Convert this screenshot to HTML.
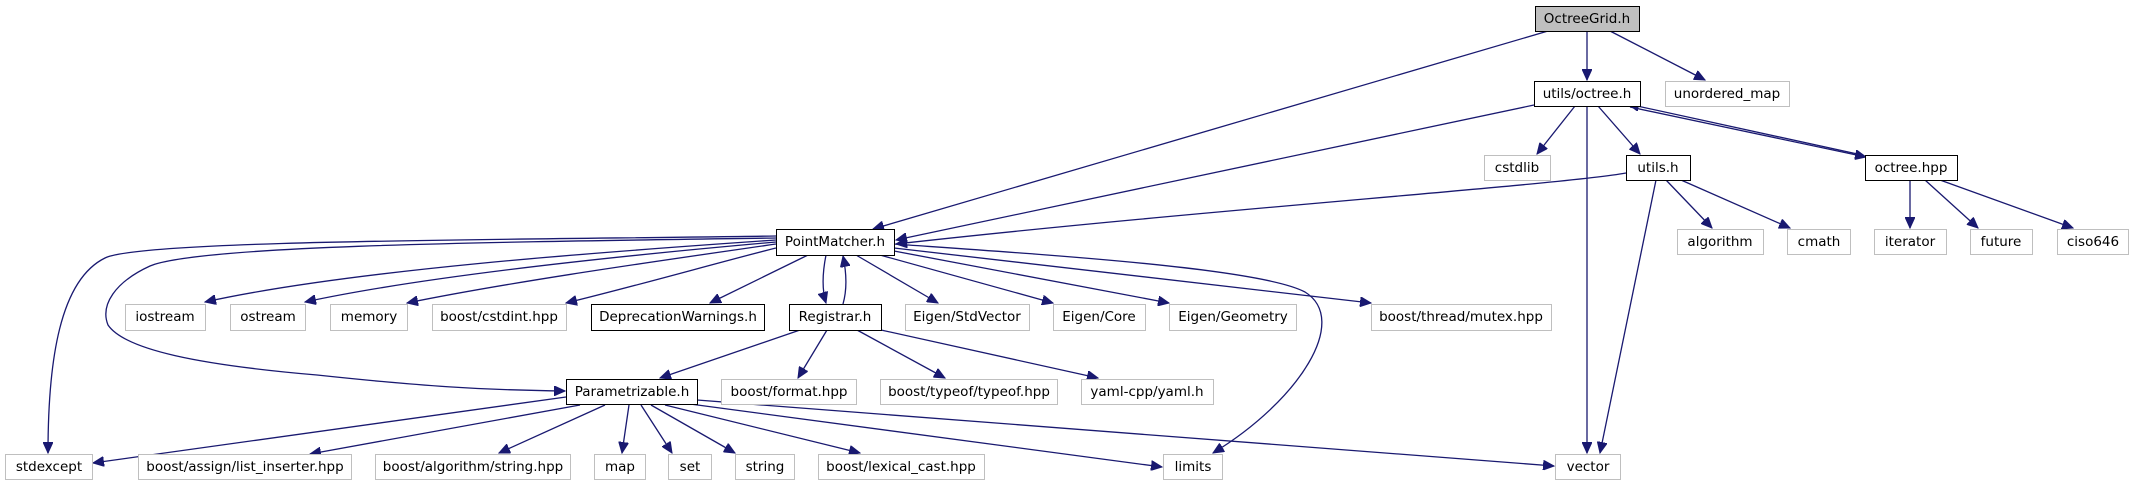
<!DOCTYPE html>
<html><head><meta charset="utf-8"><style>
html,body{margin:0;padding:0;background:#fff;}
svg{display:block}
text{font-family:"DejaVu Sans","Liberation Sans",sans-serif;font-size:13.5px;fill:#000;text-anchor:middle;dominant-baseline:central}
.g rect{fill:#fff;stroke:#bfbfbf;stroke-width:1}
.b rect{fill:#fff;stroke:#000;stroke-width:1}
path,line{stroke:#191970;stroke-width:1.3;fill:none}
</style></head><body>
<svg width="2130" height="485" viewBox="0 0 2130 485" xmlns="http://www.w3.org/2000/svg">
<defs><marker id="a" markerUnits="userSpaceOnUse" markerWidth="12" markerHeight="10" refX="11" refY="5" orient="auto"><path d="M0,0 L11,5 L0,10 Z" style="fill:#191970;stroke:#191970;stroke-width:1"/></marker></defs>
<g marker-end="url(#a)">
<path d="M1548,31 L873,229"/>
<path d="M1587,31 L1587,80"/>
<path d="M1610,31 L1705,80"/>
<path d="M1534,105 L896,240"/>
<path d="M1575,106 L1537,154"/>
<path d="M1598,106 L1640,154"/>
<path d="M1587,106 L1587,453"/>
<path d="M1630,107 L1866,157"/>
<path d="M1862,155 L1628,104"/>
<path d="M1626,173 C1560,185 1200,210 896,244"/>
<path d="M1656,180 L1600,453"/>
<path d="M1666,180 L1712,228"/>
<path d="M1681,180 L1790,228"/>
<path d="M1910,180 L1910,228"/>
<path d="M1925,180 L1978,228"/>
<path d="M1940,180 L2073,228"/>
<path d="M776,240 C600,252 350,270 205,302"/>
<path d="M776,242 C640,254 430,275 305,302"/>
<path d="M776,244 C680,258 520,280 407,303"/>
<path d="M776,248 C720,262 640,285 566,303"/>
<path d="M808,255 L710,303"/>
<path d="M826,255 C822,275 822,290 826,303"/>
<path d="M843,304 C847,290 847,275 843,256"/>
<path d="M856,255 L938,303"/>
<path d="M880,255 L1053,303"/>
<path d="M894,251 L1169,303"/>
<path d="M894,248 L1371,303"/>
<path d="M894,244 C1050,255 1260,268 1305,292 C1350,320 1300,400 1213,453"/>
<path d="M776,236 C500,240 140,240 105,258 C60,280 48,360 48,453"/>
<path d="M776,238 C500,242 200,245 150,266 C115,282 100,305 108,325 C125,350 200,365 317,375 C420,386 480,390 565,391"/>
<path d="M800,330 L660,378"/>
<path d="M827,330 L798,378"/>
<path d="M857,330 L945,378"/>
<path d="M881,330 L1098,378"/>
<path d="M566,397 L93,463"/>
<path d="M580,405 L310,454"/>
<path d="M605,405 L499,453"/>
<path d="M629,405 L622,453"/>
<path d="M641,405 L672,453"/>
<path d="M651,405 L735,453"/>
<path d="M665,405 L860,453"/>
<path d="M690,404 L1162,467"/>
<path d="M697,400 L1554,466"/>
</g>
<g class="b"><rect x="1535.5" y="6.5" width="104" height="25" style="fill:#bfbfbf"/><text x="1587" y="19">OctreeGrid.h</text></g>
<g class="b"><rect x="1534.5" y="81.5" width="106" height="25"/><text x="1587" y="94">utils/octree.h</text></g>
<g class="g"><rect x="1665.5" y="81.5" width="124" height="25"/><text x="1727" y="94">unordered_map</text></g>
<g class="g"><rect x="1484.5" y="155.5" width="66" height="25"/><text x="1517" y="168">cstdlib</text></g>
<g class="b"><rect x="1626.5" y="155.5" width="64" height="25"/><text x="1658" y="168">utils.h</text></g>
<g class="b"><rect x="1865.5" y="155.5" width="92" height="25"/><text x="1911" y="168">octree.hpp</text></g>
<g class="g"><rect x="1677.5" y="229.5" width="86" height="25"/><text x="1720" y="242">algorithm</text></g>
<g class="g"><rect x="1787.5" y="229.5" width="63" height="25"/><text x="1819" y="242">cmath</text></g>
<g class="g"><rect x="1874.5" y="229.5" width="72" height="25"/><text x="1910" y="242">iterator</text></g>
<g class="g"><rect x="1970.5" y="229.5" width="62" height="25"/><text x="2001" y="242">future</text></g>
<g class="g"><rect x="2057.5" y="229.5" width="71" height="25"/><text x="2093" y="242">ciso646</text></g>
<g class="b"><rect x="776.5" y="229.5" width="118" height="26"/><text x="835" y="242">PointMatcher.h</text></g>
<g class="g"><rect x="125.5" y="304.5" width="80" height="26"/><text x="165" y="317">iostream</text></g>
<g class="g"><rect x="230.5" y="304.5" width="75" height="26"/><text x="268" y="317">ostream</text></g>
<g class="g"><rect x="330.5" y="304.5" width="77" height="26"/><text x="369" y="317">memory</text></g>
<g class="g"><rect x="432.5" y="304.5" width="134" height="26"/><text x="499" y="317">boost/cstdint.hpp</text></g>
<g class="b"><rect x="591.5" y="304.5" width="173" height="26"/><text x="678" y="317">DeprecationWarnings.h</text></g>
<g class="b"><rect x="789.5" y="304.5" width="92" height="26"/><text x="835" y="317">Registrar.h</text></g>
<g class="g"><rect x="905.5" y="304.5" width="124" height="26"/><text x="967" y="317">Eigen/StdVector</text></g>
<g class="g"><rect x="1053.5" y="304.5" width="92" height="26"/><text x="1099" y="317">Eigen/Core</text></g>
<g class="g"><rect x="1169.5" y="304.5" width="127" height="26"/><text x="1233" y="317">Eigen/Geometry</text></g>
<g class="g"><rect x="1371.5" y="304.5" width="180" height="26"/><text x="1461" y="317">boost/thread/mutex.hpp</text></g>
<g class="b"><rect x="566.5" y="379.5" width="131" height="25"/><text x="632" y="392">Parametrizable.h</text></g>
<g class="g"><rect x="721.5" y="379.5" width="135" height="25"/><text x="789" y="392">boost/format.hpp</text></g>
<g class="g"><rect x="880.5" y="379.5" width="177" height="25"/><text x="969" y="392">boost/typeof/typeof.hpp</text></g>
<g class="g"><rect x="1081.5" y="379.5" width="132" height="25"/><text x="1147" y="392">yaml-cpp/yaml.h</text></g>
<g class="g"><rect x="5.5" y="454.5" width="87" height="25"/><text x="49" y="467">stdexcept</text></g>
<g class="g"><rect x="138.5" y="454.5" width="213" height="25"/><text x="245" y="467">boost/assign/list_inserter.hpp</text></g>
<g class="g"><rect x="375.5" y="454.5" width="195" height="25"/><text x="473" y="467">boost/algorithm/string.hpp</text></g>
<g class="g"><rect x="594.5" y="454.5" width="51" height="25"/><text x="620" y="467">map</text></g>
<g class="g"><rect x="668.5" y="454.5" width="43" height="25"/><text x="690" y="467">set</text></g>
<g class="g"><rect x="735.5" y="454.5" width="59" height="25"/><text x="765" y="467">string</text></g>
<g class="g"><rect x="818.5" y="454.5" width="166" height="25"/><text x="901" y="467">boost/lexical_cast.hpp</text></g>
<g class="g"><rect x="1163.5" y="454.5" width="59" height="25"/><text x="1193" y="467">limits</text></g>
<g class="g"><rect x="1555.5" y="454.5" width="65" height="25"/><text x="1588" y="467">vector</text></g>
</svg>
</body></html>
